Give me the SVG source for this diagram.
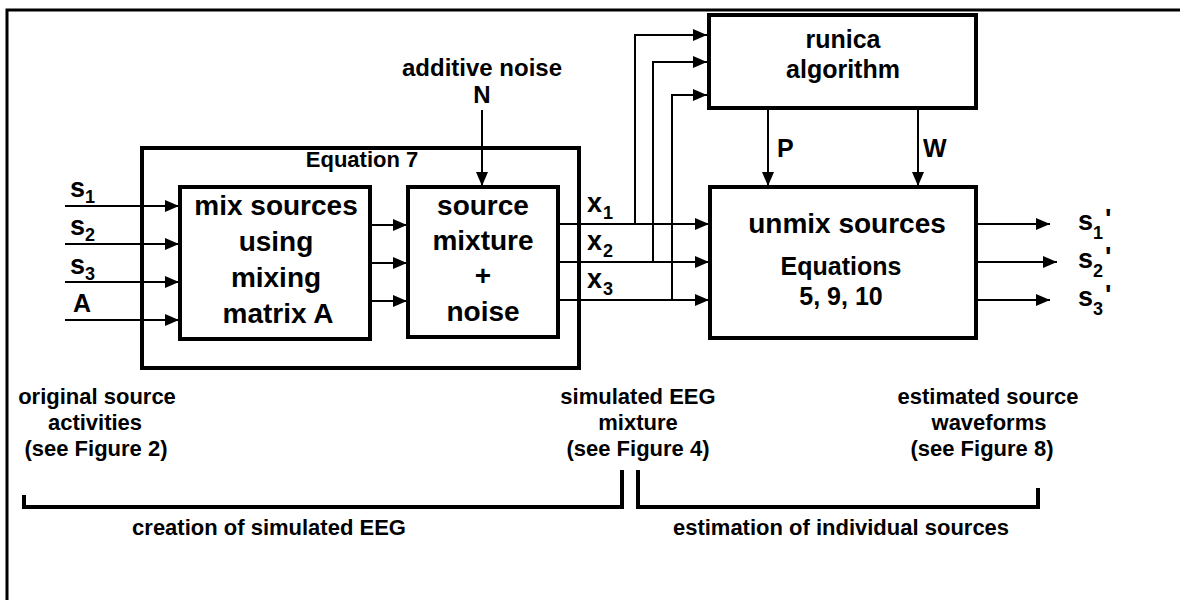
<svg xmlns="http://www.w3.org/2000/svg" width="1180" height="600" viewBox="0 0 1180 600">
<defs>
<style>
.box{fill:#fff;stroke:#000;stroke-width:4}
.ln{fill:none;stroke:#000;stroke-width:2}
.arr{fill:none;stroke:#000;stroke-width:2;marker-end:url(#ah)}
.br{fill:none;stroke:#000;stroke-width:4}
text{font-family:"Liberation Sans",Arial,sans-serif;font-weight:bold;fill:#000}
.big{font-size:28px;text-anchor:middle}
.mid{font-size:25px;text-anchor:middle}
.lab{font-size:22px;text-anchor:middle}
.sym{font-size:27px}
.sub{font-size:18px}
</style>
<marker id="ah" viewBox="0 0 14 12" refX="14" refY="6" markerWidth="14" markerHeight="12" markerUnits="userSpaceOnUse" orient="auto">
<path d="M0,0 L14,6 L0,12 Z" fill="#000"/>
</marker>
</defs>
<rect width="1180" height="600" fill="#fff"/>
<path d="M7,602 V10 H1182" fill="none" stroke="#000" stroke-width="3"/>

<g id="equation7">
<rect class="box" x="142" y="148" width="437" height="220"/>
<text class="lab" x="362" y="167">Equation 7</text>
</g>

<g id="connectors">
<line class="arr" x1="65" y1="206" x2="179" y2="206"/>
<line class="arr" x1="65" y1="244" x2="179" y2="244"/>
<line class="arr" x1="65" y1="282" x2="179" y2="282"/>
<line class="arr" x1="65" y1="320" x2="179" y2="320"/>
<line class="arr" x1="370" y1="225" x2="407" y2="225"/>
<line class="arr" x1="370" y1="263" x2="407" y2="263"/>
<line class="arr" x1="370" y1="301" x2="407" y2="301"/>
<line class="arr" x1="482" y1="110" x2="482" y2="186"/>
<line class="arr" x1="558" y1="224" x2="709" y2="224"/>
<line class="arr" x1="558" y1="262" x2="709" y2="262"/>
<line class="arr" x1="558" y1="300" x2="709" y2="300"/>
<path class="arr" d="M635,224 V35 H707"/>
<path class="arr" d="M653,262 V62 H707"/>
<path class="arr" d="M672,300 V95 H707"/>
<line class="arr" x1="768" y1="108" x2="768" y2="186"/>
<line class="arr" x1="918" y1="108" x2="918" y2="186"/>
<line class="arr" x1="976" y1="224" x2="1050" y2="224"/>
<line class="arr" x1="976" y1="262" x2="1057" y2="262"/>
<line class="arr" x1="976" y1="300" x2="1050" y2="300"/>
</g>

<g id="inputs">
<text class="sym" x="70" y="197">s</text><text class="sub" x="85" y="203">1</text>
<text class="sym" x="70" y="235">s</text><text class="sub" x="85" y="241">2</text>
<text class="sym" x="70" y="274">s</text><text class="sub" x="85" y="280">3</text>
<text class="sym" x="73" y="312" style="font-size:25px">A</text>
</g>

<g id="mix">
<rect class="box" x="180" y="187" width="190" height="152"/>
<text class="big" x="276" y="215">mix sources</text>
<text class="big" x="276" y="251">using</text>
<text class="big" x="276" y="287">mixing</text>
<text class="big" x="278" y="323">matrix A</text>
</g>

<g id="noise-input">
<text class="mid" x="482" y="76" style="font-size:24px">additive noise</text>
<text class="mid" x="482" y="103" style="font-size:24px">N</text>
</g>

<g id="mixture">
<rect class="box" x="408" y="187" width="150" height="150"/>
<text class="big" x="483" y="215">source</text>
<text class="big" x="483" y="250">mixture</text>
<text class="big" x="483" y="285">+</text>
<text class="big" x="483" y="321">noise</text>
</g>

<g id="xlabels">
<text class="sym" x="587" y="212">x</text><text class="sub" x="603" y="219">1</text>
<text class="sym" x="587" y="250">x</text><text class="sub" x="603" y="257">2</text>
<text class="sym" x="587" y="288">x</text><text class="sub" x="603" y="295">3</text>
</g>

<g id="runica">
<rect class="box" x="709" y="15" width="267" height="93"/>
<text class="mid" x="843" y="48">runica</text>
<text class="mid" x="843" y="78">algorithm</text>
</g>

<g id="pw">
<text class="mid" x="777" y="157" style="text-anchor:start">P</text>
<text class="mid" x="923" y="157" style="text-anchor:start">W</text>
</g>

<g id="unmix">
<rect class="box" x="710" y="187" width="266" height="151"/>
<text class="big" x="847" y="233">unmix sources</text>
<text class="mid" x="841" y="275">Equations</text>
<text class="mid" x="841" y="305">5, 9, 10</text>
</g>

<g id="outputs">
<text class="sym" x="1078" y="230">s</text><text class="sub" x="1093" y="239">1</text><text class="sym" x="1105" y="228">'</text>
<text class="sym" x="1078" y="268">s</text><text class="sub" x="1093" y="277">2</text><text class="sym" x="1105" y="266">'</text>
<text class="sym" x="1078" y="306">s</text><text class="sub" x="1093" y="315">3</text><text class="sym" x="1105" y="304">'</text>
</g>

<g id="captions">
<text class="lab" x="97" y="404">original source</text>
<text class="lab" x="95" y="430">activities</text>
<text class="lab" x="96" y="456">(see Figure 2)</text>
<text class="lab" x="638" y="404">simulated EEG</text>
<text class="lab" x="638" y="430">mixture</text>
<text class="lab" x="638" y="456">(see Figure 4)</text>
<text class="lab" x="988" y="404">estimated source</text>
<text class="lab" x="989" y="430">waveforms</text>
<text class="lab" x="982" y="456">(see Figure 8)</text>
</g>

<g id="brackets">
<path class="br" d="M24,495 V507 H622 V470"/>
<path class="br" d="M638,470 V507 H1038 V488"/>
<text class="lab" x="269" y="535">creation of simulated EEG</text>
<text class="lab" x="841" y="535">estimation of individual sources</text>
</g>
</svg>
